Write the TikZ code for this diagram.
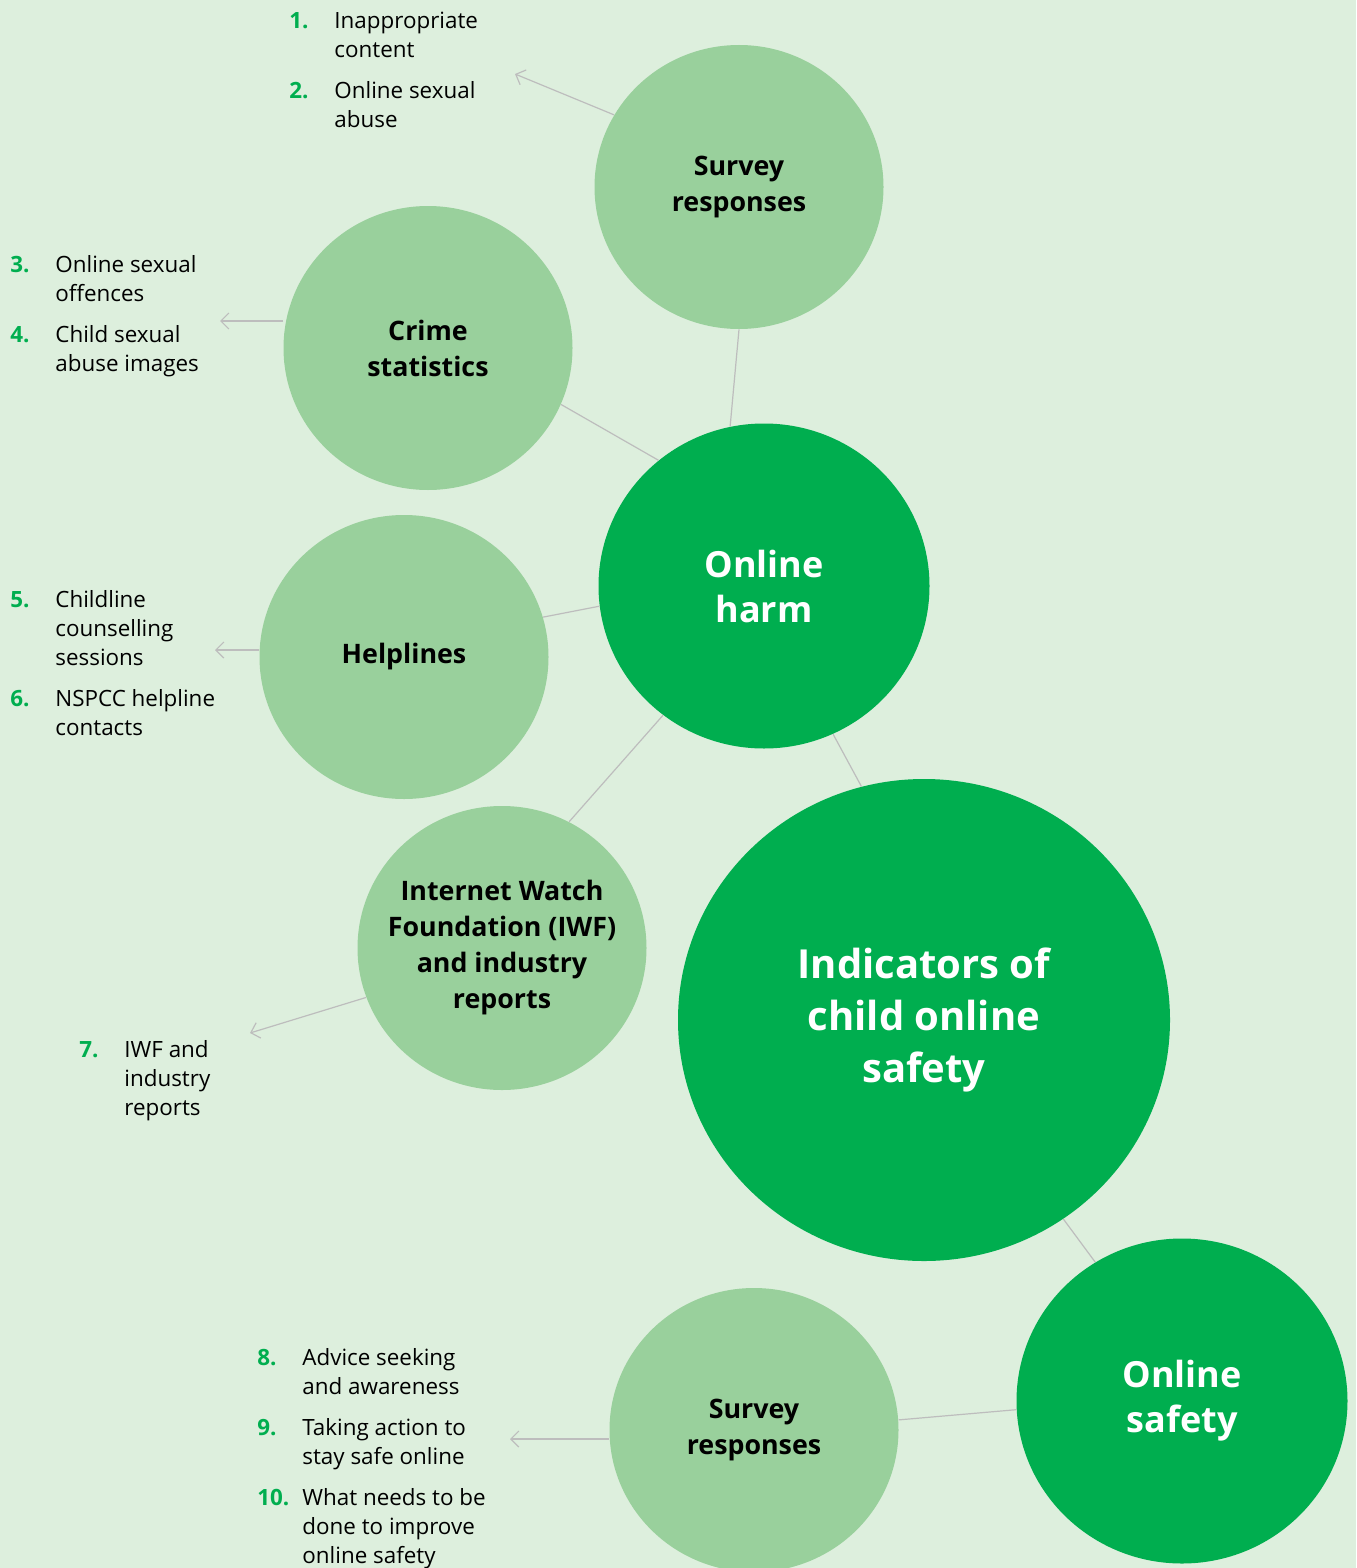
\documentclass[tikz,border=0pt]{standalone}
\usepackage{fontspec}
\setmainfont{Open Sans}
\usetikzlibrary{shapes.geometric, arrows.meta}
\definecolor{bgcol}{HTML}{DDEFDD}
\definecolor{palegreen}{HTML}{99D09C}
\definecolor{darkgreen}{HTML}{00AE4F}
\definecolor{linegrey}{HTML}{BDBDBD}
\tikzstyle{source} = [ellipse, fill=palegreen, text=black, font=\bfseries\fontsize{13.4}{18}\selectfont, align=center, minimum width=144.5pt, minimum height=142pt, inner sep=0pt]
\tikzstyle{topic} = [ellipse, fill=darkgreen, text=white, font=\bfseries\fontsize{18}{22.5}\selectfont, align=center, minimum width=165.5pt, minimum height=162.5pt, inner sep=0pt]
\tikzstyle{link} = [draw=linegrey, line width=0.6pt]
\tikzstyle{arrow} = [link, -{Straight Barb[length=4pt,width=8pt]}]
\tikzstyle{list} = [anchor=north west, inner sep=0pt, font=\fontsize{11.2}{14.5}\selectfont]
\newcommand{\listno}[1]{\textcolor{darkgreen}{\bfseries #1}}

\begin{document}
\begin{tikzpicture}[x=0.5pt, y=-0.5pt]
\fill[bgcol] (0,0) rectangle (1356,1568);
\useasboundingbox (0,0) rectangle (1356,1568);

% bubbles
\node (survA) [source] at (739,187) {Survey\\responses};
\node (crime) [source] at (428,348) {Crime\\statistics};
\node (help) [source] at (404,657) {Helplines};
\node (harm) [topic] at (764,586) {Online\\harm};
\node (iwf) [source, inner sep=-16pt] at (502,948) {Internet Watch\\Foundation (IWF)\\and industry\\reports};
\node (indic) [topic, minimum width=246pt, minimum height=241pt, font=\bfseries\fontsize{20}{26}\selectfont] at (924,1020) {Indicators of\\child online\\safety};
\node (survB) [source] at (754,1430) {Survey\\responses};
\node (safety) [topic] at (1182,1401) {Online\\safety};

\draw [link] (survA.south) -- (harm.102);
\draw [link] (crime.-23) -- (harm.130);
\draw [link] (help.16) -- (harm.187);
\draw [link] (iwf.62) -- (harm.232);
\draw [link] (harm.295) -- (indic.105);
\draw [link] (indic.305) -- (safety.122);
\draw [link] (safety.183) -- (survB.4);

% indicator lists
\node (listA) [list] at (289,8) {\begin{tabular}{@{}p{22.5pt}@{}l@{}}
\listno{1.} & Inappropriate\\ & content\\[6pt]
\listno{2.} & Online sexual\\ & abuse
\end{tabular}};
\node (listB) [list] at (10,252) {\begin{tabular}{@{}p{22.5pt}@{}l@{}}
\listno{3.} & Online sexual\\ & offences\\[6pt]
\listno{4.} & Child sexual\\ & abuse images
\end{tabular}};
\node (listC) [list] at (10,587) {\begin{tabular}{@{}p{22.5pt}@{}l@{}}
\listno{5.} & Childline\\ & counselling\\ & sessions\\[6pt]
\listno{6.} & NSPCC helpline\\ & contacts
\end{tabular}};
\node (listD) [list] at (79,1037) {\begin{tabular}{@{}p{22.5pt}@{}l@{}}
\listno{7.} & IWF and\\ & industry\\ & reports
\end{tabular}};
\node (listE) [list] at (257,1345) {\begin{tabular}{@{}p{22.5pt}@{}l@{}}
\listno{8.} & Advice seeking\\ & and awareness\\[6pt]
\listno{9.} & Taking action to\\ & stay safe online\\[6pt]
\listno{10.} & What needs to be\\ & done to improve\\ & online safety
\end{tabular}};

\coordinate (tipA) at (515,74);
\coordinate (tipB) at (220,321);
\coordinate (tipC) at (215,650);
\coordinate (tipD) at (250,1033);
\coordinate (tipE) at (510,1439);
\draw [arrow] (survA.150) -- (tipA);
\draw [arrow] (tipB -| crime.west) -- (tipB);
\draw [arrow] (tipC -| help.west) -- (tipC);
\draw [arrow] (iwf.200) -- (tipD);
\draw [arrow] (tipE -| survB.west) -- (tipE);

\end{tikzpicture}
\end{document}
